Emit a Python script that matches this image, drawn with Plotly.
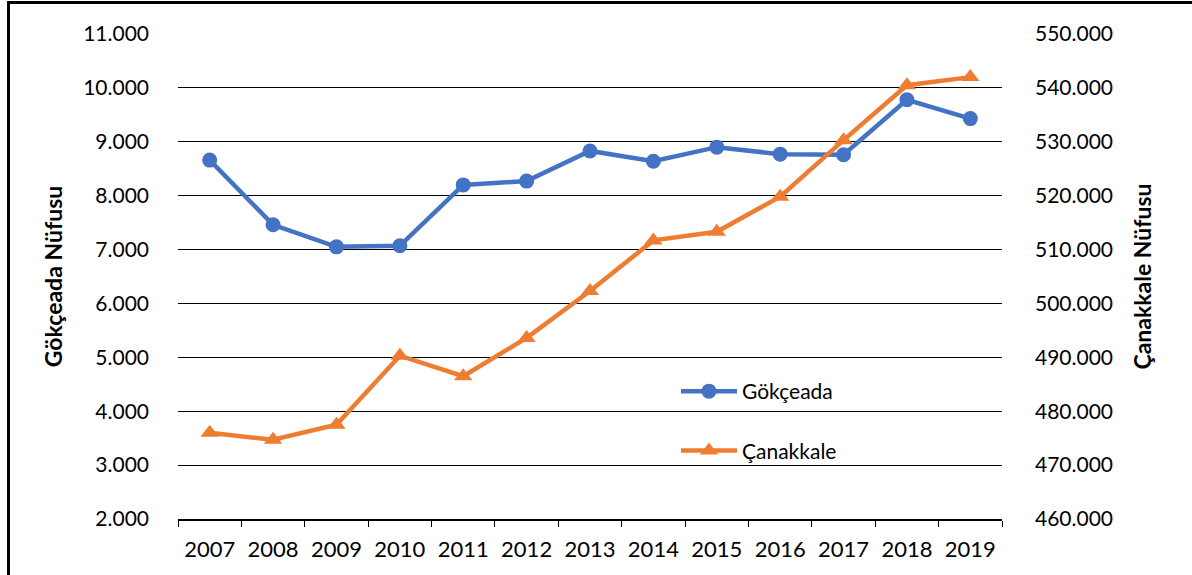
import plotly.graph_objects as go

years = ["2007", "2008", "2009", "2010", "2011", "2012", "2013",
         "2014", "2015", "2016", "2017", "2018", "2019"]
gokceada = [8660, 7460, 7050, 7070, 8200, 8270, 8830, 8640, 8900, 8770, 8760, 9780, 9430]
canakkale = [476000, 474700, 477500, 490300, 486500, 493600, 502300,
             511700, 513300, 519800, 530300, 540500, 542000]

left_ticks = [2000, 3000, 4000, 5000, 6000, 7000, 8000, 9000, 10000, 11000]
right_ticks = [460000, 470000, 480000, 490000, 500000, 510000, 520000, 530000, 540000, 550000]

BLUE = "#4472C4"
ORANGE = "#ED7D31"
FONT = "Lato"

fig = go.Figure()
fig.add_trace(go.Scatter(
    x=years, y=gokceada, name="Gökçeada", mode="lines+markers",
    line=dict(color=BLUE, width=4.5),
    marker=dict(symbol="circle", size=15, color=BLUE),
    legendgroup="g1", yaxis="y"))
fig.add_trace(go.Scatter(
    x=years, y=canakkale, name="Çanakkale", mode="lines+markers",
    line=dict(color=ORANGE, width=4.5),
    marker=dict(symbol="triangle-up", size=16, color=ORANGE),
    legendgroup="g2", yaxis="y2"))

L, R, T, B = 178, 190, 34, 56
W, H = 1192, 575
pw, ph = W - L - R, H - T - B

def px(xp):
    return (xp - L) / pw

def py(yp):
    return (H - B - yp) / ph

fig.update_layout(
    width=W, height=H,
    margin=dict(l=L, r=R, t=T, b=B, pad=0),
    paper_bgcolor="white", plot_bgcolor="white",
    separators=",.",
    font=dict(family=FONT, size=21, color="#000000"),
    showlegend=True,
    legend=dict(x=px(676), y=py(371), xanchor="left", yanchor="top",
                bgcolor="rgba(0,0,0,0)", tracegroupgap=29,
                font=dict(family=FONT, size=21, color="#000000"),
                itemwidth=56),
    xaxis=dict(type="category", range=[-0.5, 12.5],
               showgrid=False, showline=True, linecolor="#000000", linewidth=1.5,
               ticks="outside", tickson="boundaries", ticklen=6, tickcolor="#000000",
               tickwidth=1, tickfont=dict(family=FONT, size=22), ticklabelstandoff=10),
    yaxis=dict(range=[2000, 11000], tickvals=left_ticks, tickformat=",d",
               showgrid=True, gridcolor="#000000", gridwidth=1.4,
               zeroline=False, showline=False, ticks="",
               tickfont=dict(family=FONT, size=21), ticklabelstandoff=28,
               title=dict(text="<b>Gökçeada Nüfusu</b>", standoff=14,
                          font=dict(family=FONT, size=23))),
    yaxis2=dict(range=[460000, 550000], tickvals=right_ticks, tickformat=",d",
                overlaying="y", side="right", showgrid=False, zeroline=False,
                showline=False, ticks="",
                tickfont=dict(family=FONT, size=21), ticklabelstandoff=32,
                title=dict(text="<b>Çanakkale Nüfusu</b>", standoff=22,
                           font=dict(family=FONT, size=23))),
    shapes=[
        dict(type="rect", xref="paper", yref="paper",
             x0=px(8.5), x1=px(1400), y0=py(2.5), y1=py(800),
             line=dict(color="#000000", width=3), fillcolor="rgba(0,0,0,0)",
             layer="above"),
    ],
)

fig.write_html("out.html",
               config={"displayModeBar": False},
               post_script="document.body.style.margin='0';document.body.style.padding='0';")
